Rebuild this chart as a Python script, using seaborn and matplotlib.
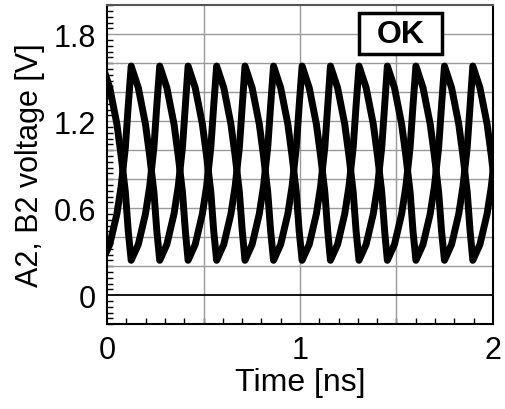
#!/usr/bin/env python3

import pandas as pd
import seaborn as sns
import matplotlib.pyplot as plt
from matplotlib.ticker import MultipleLocator, FuncFormatter
from matplotlib.patches import Rectangle

# time samples [ns] (shared by both traces)
time_ns = [-0.023, 0.014, 0.051, 0.073, 0.095, 0.110,
           0.125, 0.162, 0.199, 0.221, 0.243, 0.258,
           0.273, 0.310, 0.347, 0.369, 0.391, 0.406,
           0.420, 0.457, 0.494, 0.516, 0.538, 0.553,
           0.568, 0.605, 0.642, 0.664, 0.686, 0.701,
           0.715, 0.752, 0.789, 0.811, 0.833, 0.848,
           0.863, 0.900, 0.937, 0.959, 0.981, 0.996,
           1.011, 1.048, 1.085, 1.107, 1.129, 1.144,
           1.158, 1.195, 1.232, 1.254, 1.276, 1.291,
           1.306, 1.343, 1.380, 1.402, 1.424, 1.439,
           1.453, 1.490, 1.527, 1.549, 1.571, 1.586,
           1.601, 1.638, 1.675, 1.697, 1.719, 1.734,
           1.749, 1.786, 1.823, 1.845, 1.867, 1.882,
           1.896, 1.933, 1.970, 1.992, 2.014, 2.029,
           2.044]

# A2 voltage [V]
a2_volt = [0.24, 0.35, 0.56, 0.75, 1.02, 1.31,
           1.58, 1.43, 1.18, 0.96, 0.71, 0.44,
           0.24, 0.35, 0.56, 0.75, 1.02, 1.31,
           1.58, 1.43, 1.18, 0.96, 0.71, 0.44,
           0.24, 0.35, 0.56, 0.75, 1.02, 1.31,
           1.58, 1.43, 1.18, 0.96, 0.71, 0.44,
           0.24, 0.35, 0.56, 0.75, 1.02, 1.31,
           1.58, 1.43, 1.18, 0.96, 0.71, 0.44,
           0.24, 0.35, 0.56, 0.75, 1.02, 1.31,
           1.58, 1.43, 1.18, 0.96, 0.71, 0.44,
           0.24, 0.35, 0.56, 0.75, 1.02, 1.31,
           1.58, 1.43, 1.18, 0.96, 0.71, 0.44,
           0.24, 0.35, 0.56, 0.75, 1.02, 1.31,
           1.58, 1.43, 1.18, 0.96, 0.71, 0.44,
           0.24]

# B2 voltage [V]
b2_volt = [1.58, 1.43, 1.18, 0.96, 0.71, 0.44,
           0.24, 0.35, 0.56, 0.75, 1.02, 1.31,
           1.58, 1.43, 1.18, 0.96, 0.71, 0.44,
           0.24, 0.35, 0.56, 0.75, 1.02, 1.31,
           1.58, 1.43, 1.18, 0.96, 0.71, 0.44,
           0.24, 0.35, 0.56, 0.75, 1.02, 1.31,
           1.58, 1.43, 1.18, 0.96, 0.71, 0.44,
           0.24, 0.35, 0.56, 0.75, 1.02, 1.31,
           1.58, 1.43, 1.18, 0.96, 0.71, 0.44,
           0.24, 0.35, 0.56, 0.75, 1.02, 1.31,
           1.58, 1.43, 1.18, 0.96, 0.71, 0.44,
           0.24, 0.35, 0.56, 0.75, 1.02, 1.31,
           1.58, 1.43, 1.18, 0.96, 0.71, 0.44,
           0.24, 0.35, 0.56, 0.75, 1.02, 1.31,
           1.58]

df = pd.concat([
    pd.DataFrame({'t': time_ns, 'v': a2_volt, 'signal': 'A2'}),
    pd.DataFrame({'t': time_ns, 'v': b2_volt, 'signal': 'B2'}),
])

sns.set_style('white')
plt.rcParams['font.family'] = ['Liberation Sans', 'DejaVu Sans']
plt.rcParams['text.color'] = 'black'
plt.rcParams['axes.labelcolor'] = 'black'

fig = plt.figure(figsize=(5.05, 4.1), dpi=100)
ax = fig.add_axes([0.212, 0.207, 0.764, 0.778])

# grid
for x in [0.5, 1.0, 1.5]:
    ax.axvline(x, color='#999999', lw=1, zorder=1)
for y in [0.2, 0.4, 0.6, 0.8, 1.0, 1.2, 1.4, 1.6, 1.8]:
    ax.axhline(y, color='#999999', lw=1, zorder=1)
ax.axhline(0, color='black', lw=1.3, zorder=1)

sns.lineplot(data=df, x='t', y='v', units='signal', estimator=None, sort=False,
             color='black', lw=5, ax=ax, zorder=3)
for line in ax.get_lines():
    line.set_solid_joinstyle('round')

ax.set_xlim(0, 2)
ax.set_ylim(-0.2, 2.0)
ax.xaxis.set_major_locator(MultipleLocator(1))
ax.xaxis.set_minor_locator(MultipleLocator(0.1))
ax.yaxis.set_major_locator(MultipleLocator(0.6))
ax.yaxis.set_minor_locator(MultipleLocator(0.04))
ax.xaxis.set_major_formatter(FuncFormatter(lambda v, p: f'{v:g}'))
ax.yaxis.set_major_formatter(FuncFormatter(lambda v, p: f'{v:g}'))
ax.tick_params(which='both', direction='in', top=False, right=False,
               labelsize=22, colors='black')
ax.tick_params(which='major', bottom=False, left=False, pad=8)
ax.tick_params(which='minor', bottom=True, left=True, length=4, width=1)

for s in ax.spines.values():
    s.set_color('black')
    s.set_linewidth(1.5)
ax.spines['top'].set_color('#555555')

ax.set_xlabel('Time [ns]', fontsize=23, labelpad=1)
ax.set_ylabel('A2, B2 voltage [V]', fontsize=22, labelpad=6)

# "OK" label box
ax.add_patch(Rectangle((0.653, 0.846), 0.215, 0.129, transform=ax.transAxes,
                       facecolor='white', edgecolor='black', lw=2.5, zorder=4))
ax.text(0.7605, 0.91, 'OK', transform=ax.transAxes, fontsize=23,
        fontweight='bold', ha='center', va='center', zorder=5)

plt.savefig('out.png', dpi=100)
plt.close()
